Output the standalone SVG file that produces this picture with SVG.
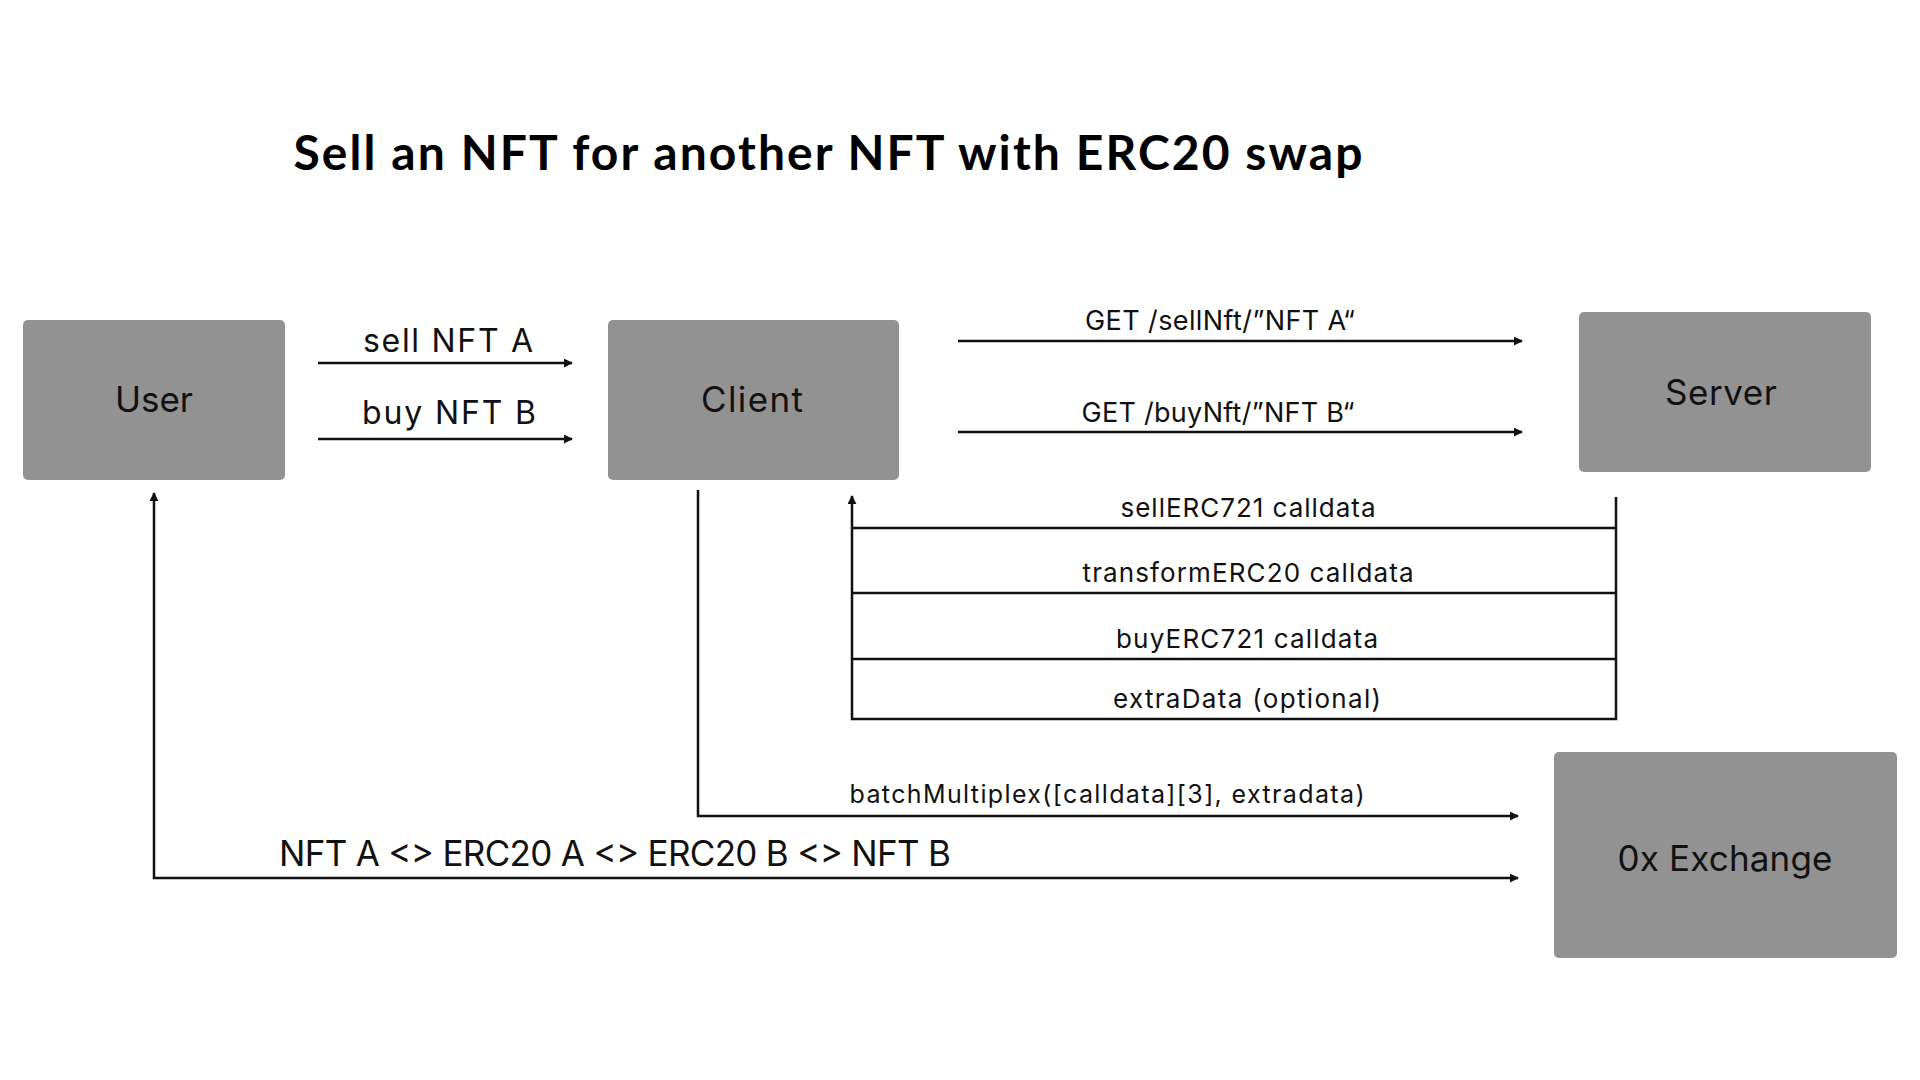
<svg xmlns="http://www.w3.org/2000/svg" width="1920" height="1080" viewBox="0 0 1920 1080">
  <style>
    .node { fill: #929292; }
    .lbl { font-family: Inter, "Open Sans", "DejaVu Sans", sans-serif; fill: #111; text-anchor: middle; }
    .title { font-family: Lato, "Open Sans", sans-serif; font-weight: bold; font-size: 48px; fill: #000; text-anchor: middle; }
    .line { fill: none; stroke: #111; stroke-width: 2.5; }
  </style>
  <defs>
    <marker id="arr" viewBox="0 0 10 10" refX="9" refY="5" markerWidth="9" markerHeight="9" markerUnits="userSpaceOnUse" orient="auto-start-reverse">
      <path d="M0,0 L10,5 L0,10 z" fill="#111"/>
    </marker>
  </defs>
  <rect width="1920" height="1080" fill="#ffffff"/>

  <text class="title" x="828" y="170" textLength="1069">Sell an NFT for another NFT with ERC20 swap</text>

  <g id="user">
    <rect class="node" x="23" y="320" width="262" height="160" rx="5"/>
    <text class="lbl" x="154" y="412" font-size="35" textLength="78">User</text>
  </g>
  <g id="client">
    <rect class="node" x="608" y="320" width="291" height="160" rx="5"/>
    <text class="lbl" x="752" y="412" font-size="35" textLength="102">Client</text>
  </g>
  <g id="server">
    <rect class="node" x="1579" y="312" width="292" height="160" rx="5"/>
    <text class="lbl" x="1721" y="405" font-size="35" textLength="112">Server</text>
  </g>
  <g id="exchange">
    <rect class="node" x="1554" y="752" width="343" height="206" rx="5"/>
    <text class="lbl" x="1725" y="871" font-size="35" textLength="215">0x Exchange</text>
  </g>

  <g id="connectors">
    <line class="line" x1="318" y1="363" x2="572" y2="363" marker-end="url(#arr)"/>
    <line class="line" x1="318" y1="439" x2="572" y2="439" marker-end="url(#arr)"/>
    <line class="line" x1="958" y1="341" x2="1522" y2="341" marker-end="url(#arr)"/>
    <line class="line" x1="958" y1="432" x2="1522" y2="432" marker-end="url(#arr)"/>
    <path class="line" d="M1616,497 V719 H852 V496" marker-end="url(#arr)"/>
    <line class="line" x1="852" y1="528" x2="1616" y2="528"/>
    <line class="line" x1="852" y1="593" x2="1616" y2="593"/>
    <line class="line" x1="852" y1="659" x2="1616" y2="659"/>
    <path class="line" d="M698,490 V816 H1518" marker-end="url(#arr)"/>
    <path class="line" d="M154,493 V878 H1518" marker-start="url(#arr)" marker-end="url(#arr)"/>
  </g>

  <g id="labels">
    <text class="lbl" x="448" y="352" font-size="32" textLength="170">sell NFT A</text>
    <text class="lbl" x="449" y="424" font-size="32" textLength="174">buy NFT B</text>
    <text class="lbl" x="1220" y="330" font-size="27" textLength="270">GET /sellNft/”NFT A“</text>
    <text class="lbl" x="1218" y="422" font-size="27" textLength="273">GET /buyNft/”NFT B“</text>
    <text class="lbl" x="1248" y="517" font-size="26" textLength="255">sellERC721 calldata</text>
    <text class="lbl" x="1248" y="582" font-size="26" textLength="331">transformERC20 calldata</text>
    <text class="lbl" x="1247" y="648" font-size="26" textLength="262">buyERC721 calldata</text>
    <text class="lbl" x="1247" y="708" font-size="26" textLength="268">extraData (optional)</text>
    <text class="lbl" x="1107" y="803" font-size="25" textLength="515">batchMultiplex([calldata][3], extradata)</text>
    <text class="lbl" x="615" y="866" font-size="35" textLength="672">NFT A &lt;&gt; ERC20 A &lt;&gt; ERC20 B &lt;&gt; NFT B</text>
  </g>
</svg>
